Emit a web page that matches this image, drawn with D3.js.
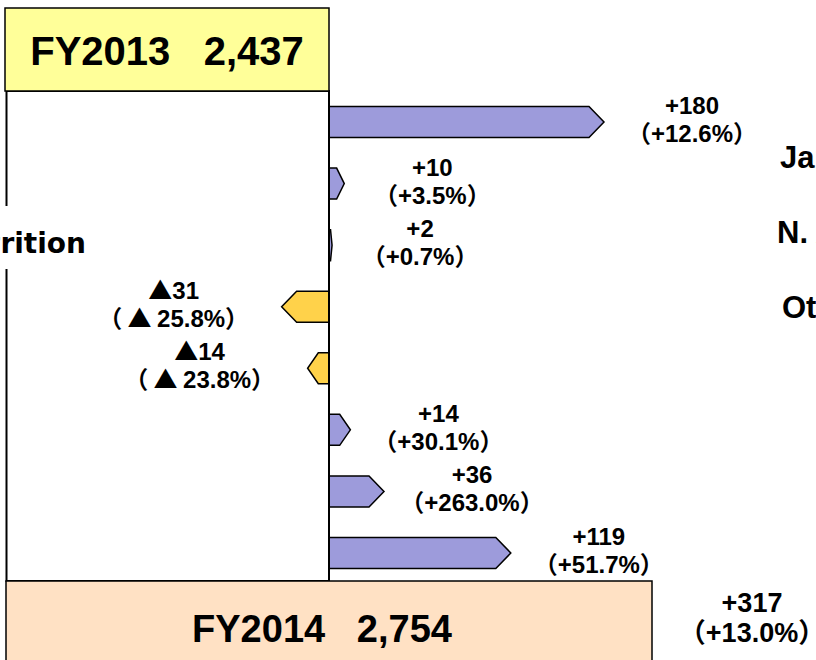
<!DOCTYPE html>
<html>
<head>
<meta charset="utf-8" />
<style>

body {
    margin: 0;
    background-color: #FFF;
}

#chart {
    width: 816px;
    height: 660px;
    overflow: hidden;
}

text {
    font-family: "Liberation Sans", Arial, "Noto Sans CJK JP", sans-serif;
    font-weight: bold;
    fill: #000;
}

.cjk {
    font-family: "Noto Sans CJK JP", sans-serif;
    font-weight: bold;
}

</style>
<title>FY2013 to FY2014 bridge</title>
</head>

<body>
<div id="chart"></div>

<script src="https://d3js.org/d3.v7.min.js"></script>
<script>

// values
var startLabel = "FY2013", startValue = 2437;
var endLabel = "FY2014", endValue = 2754;
var deltas = [180, 10, 2, -31, -14, 14, 36, 119];
var deltaPct = [12.6, 3.5, 0.7, -25.8, -23.8, 30.1, 263.0, 51.7];
var totalDelta = 317, totalPct = 13.0;
var groupLabels = ["Nutrition"];
var regionLabels = ["Japan", "N. America", "Others"];

var width = 816, height = 660;

var svg = d3.select("#chart").append("svg")
        .attr("width", width)
        .attr("height", height);

var fmt = d3.format(",");
var fmtPct = d3.format(".1f");

var x = d3.scaleLinear().domain([0, 180]).range([329, 604]);
var y = d3.scalePoint().domain(d3.range(deltas.length)).range([122, 553]);
var barH = 31;

//left frame around the deltas
svg.append("rect")
    .attr("x", 6.5).attr("y", 91)
    .attr("width", x(0) - 6.5).attr("height", 490)
    .style("fill", "#FFF")
    .style("stroke", "#000")
    .style("stroke-width", 2);

//group label, it hides the frame line behind it
svg.append("rect")
    .attr("x", 0).attr("y", 206)
    .attr("width", 92).attr("height", 63)
    .style("fill", "#FFF");
svg.append("text")
    .attr("x", 86).attr("y", 253)
    .attr("text-anchor", "end")
    .style("font-family", "'DejaVu Sans', sans-serif")
    .style("font-size", "28px")
    .text(groupLabels[0]);

//start box
svg.append("rect")
    .attr("x", 5).attr("y", 8)
    .attr("width", 324).attr("height", 83)
    .style("fill", "#FFFF99")
    .style("stroke", "#000")
    .style("stroke-width", 1.5);
svg.append("text")
    .attr("x", 167).attr("y", 65)
    .attr("text-anchor", "middle")
    .style("font-size", "40px")
    .style("white-space", "pre")
    .text(startLabel + "   " + fmt(startValue));

//arrow shaped bars
function arrow(v, i) {
    var x0 = x(0), x1 = x(v), dir = v < 0 ? -1 : 1;
    var tip = Math.min(15, Math.abs(x1 - x0) / 2);
    var top = y(i) - barH / 2, mid = y(i), bot = y(i) + barH / 2;
    return "M" + x0 + "," + top +
        "L" + (x1 - dir * tip) + "," + top +
        "L" + x1 + "," + mid +
        "L" + (x1 - dir * tip) + "," + bot +
        "L" + x0 + "," + bot + "Z";
}

svg.selectAll(".bar").data(deltas)
    .enter().append("path")
    .attr("class", "bar")
    .attr("d", arrow)
    .style("fill", function(d) { return d < 0 ? "#FFD24A" : "#9D9BDB"; })
    .style("stroke", "#000")
    .style("stroke-width", 1.5);

//baseline
svg.append("line")
    .attr("x1", x(0)).attr("x2", x(0))
    .attr("y1", 91).attr("y2", 581)
    .style("stroke", "#000")
    .style("stroke-width", 2);

//value labels
var labels = svg.selectAll(".lbl").data(deltas)
    .enter().append("text")
    .attr("class", "lbl")
    .attr("text-anchor", "middle")
    .style("font-size", "24px")
    .attr("transform", function(d, i) {
        var cx = d < 0 ? x(d) - 108 : x(d) + 88;
        return "translate(" + cx + "," + (y(i) - 8) + ")";
    });

var first = labels.append("tspan")
    .attr("x", 0).attr("y", 0);
first.filter(function(d) { return d < 0; })
    .append("tspan").attr("class", "cjk").text("▲");
first.append("tspan")
    .text(function(d) { return d < 0 ? Math.abs(d) : "+" + d; });

var second = labels.append("tspan")
    .attr("x", 0).attr("y", 28);
second.append("tspan").attr("class", "cjk").text("（");
second.filter(function(d, i) { return deltaPct[i] < 0; })
    .append("tspan").attr("class", "cjk").style("white-space", "pre").text(" ▲ ");
second.append("tspan")
    .text(function(d, i) {
        var p = deltaPct[i];
        return (p < 0 ? "" : "+") + fmtPct(Math.abs(p)) + "%";
    });
second.append("tspan").attr("class", "cjk").text("）");

//region labels on the right, cut by the page edge
svg.selectAll(".region").data(regionLabels)
    .enter().append("text")
    .attr("class", "region")
    .attr("x", function(d, i) { return [780, 777, 782][i]; })
    .attr("y", function(d, i) { return 168 + i * 75; })
    .style("font-size", "31px")
    .text(function(d) { return d; });

//end box
svg.append("rect")
    .attr("x", 6).attr("y", 581)
    .attr("width", 646).attr("height", 100)
    .style("fill", "#FFE1C4")
    .style("stroke", "#000")
    .style("stroke-width", 1.5);
svg.append("text")
    .attr("x", 322).attr("y", 642)
    .attr("text-anchor", "middle")
    .style("font-size", "38px")
    .style("white-space", "pre")
    .text(endLabel + "   " + fmt(endValue));

//total change
var tot = svg.append("text")
    .attr("text-anchor", "middle")
    .style("font-size", "27px")
    .attr("transform", "translate(752,612)");
tot.append("tspan").attr("x", 0).attr("y", 0).text("+" + totalDelta);
var tot2 = tot.append("tspan").attr("x", 0).attr("y", 30);
tot2.append("tspan").attr("class", "cjk").text("（");
tot2.append("tspan").text("+" + fmtPct(totalPct) + "%");
tot2.append("tspan").attr("class", "cjk").text("）");

</script>
</body>
</html>
